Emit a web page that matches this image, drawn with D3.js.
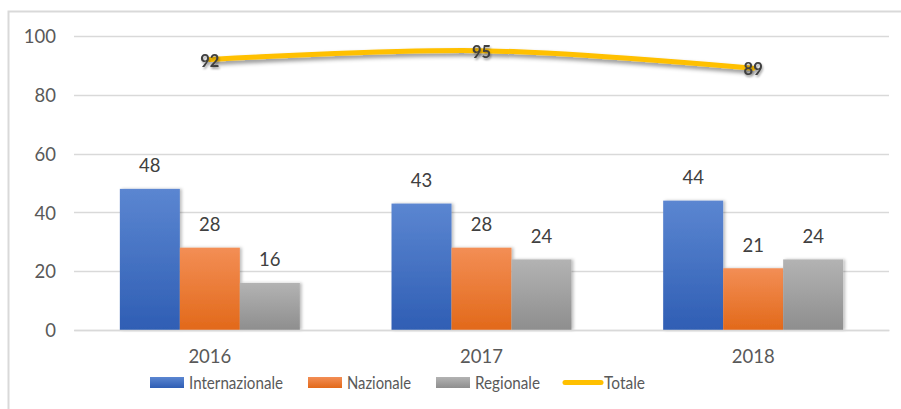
<!DOCTYPE html>
<html><head><meta charset="utf-8">
<script src="https://cdn.jsdelivr.net/npm/d3@7"></script>
<style>body{margin:0;background:#fff;}svg{display:block;font-family:Lato,"Open Sans",sans-serif;}</style>
</head><body>
<svg id="c" width="901" height="409"></svg>
<script>
const years = ["2016","2017","2018"];
const seriesNames = ["Internazionale","Nazionale","Regionale"];
const internazionale = [48,43,44];
const nazionale = [28,28,21];
const regionale = [16,24,24];
const totale = [92,95,89];
const yTicks = [0,20,40,60,80,100];
const lineName = "Totale";

const svg = d3.select("#c");
const defs = svg.append("defs");
const grads = [["gBlue","#5B86D1","#2F5EB4"],["gOrange","#F38E55","#E2691A"],["gGray","#B3B3B3","#8E8E8E"]];
grads.forEach(([id,a,b])=>{
  const g=defs.append("linearGradient").attr("id",id).attr("x1",0).attr("y1",0).attr("x2",0).attr("y2",1);
  g.append("stop").attr("offset","0%").attr("stop-color",a);
  g.append("stop").attr("offset","100%").attr("stop-color",b);
});
const fs=defs.append("filter").attr("id","sh").attr("x","-10%").attr("y","-50%").attr("width","130%").attr("height","250%");
fs.append("feDropShadow").attr("dx",1.5).attr("dy",3).attr("stdDeviation",2).attr("flood-color","#000").attr("flood-opacity",0.45);
const ft=defs.append("filter").attr("id","tsh").attr("x","-30%").attr("y","-30%").attr("width","160%").attr("height","160%");
ft.append("feDropShadow").attr("dx",1).attr("dy",2).attr("stdDeviation",1.2).attr("flood-color","#000").attr("flood-opacity",0.35);
const fb=defs.append("filter").attr("id","bsh").attr("x","-20%").attr("y","-10%").attr("width","140%").attr("height","120%");
fb.append("feDropShadow").attr("dx",2).attr("dy",0).attr("stdDeviation",1.5).attr("flood-color","#000").attr("flood-opacity",0.25);

// frame
svg.append("path").attr("d","M8.5,409 L8.5,11.5 L901,11.5").attr("fill","none").attr("stroke","#d9d9d9").attr("stroke-width",2);

const x0 = d3.scaleBand().domain(years).range([74,889]).paddingInner(0.3375).paddingOuter(0.1688);
const x1 = d3.scaleBand().domain(seriesNames).range([0,x0.bandwidth()]);
const y = d3.scaleLinear().domain([0,100]).range([330,36]);

// grid
svg.append("g").selectAll("line").data(yTicks).join("line")
  .attr("x1",74).attr("x2",889).attr("y1",d=>Math.round(y(d))+0.5).attr("y2",d=>Math.round(y(d))+0.5)
  .attr("stroke","#d9d9d9").attr("stroke-width",1.5);
const yAxis = svg.append("g").attr("transform","translate(56,0)").call(d3.axisLeft(y).tickValues(yTicks).tickSize(0).tickPadding(0));
yAxis.select(".domain").remove();
yAxis.selectAll("text").attr("font-size",18.5).attr("fill","#595959").attr("font-family","Lato,sans-serif").attr("dy","0.36em");

const data = [internazionale,nazionale,regionale];
const fills=["url(#gBlue)","url(#gOrange)","url(#gGray)"];
years.forEach((yr,i)=>{
  const g=svg.append("g").attr("transform",`translate(${x0(yr)},0)`);
  seriesNames.forEach((s,j)=>{
    const v=data[j][i];
    g.append("rect").attr("x",x1(s)).attr("y",y(v)).attr("width",x1.bandwidth()).attr("height",y(0)-y(v))
      .attr("fill",fills[j]).attr("filter","url(#bsh)");
  });
  seriesNames.forEach((s,j)=>{
    const v=data[j][i];
    g.append("text").attr("x",x1(s)+x1.bandwidth()/2).attr("y",y(v)-16.5).attr("text-anchor","middle")
      .attr("font-size",18.5).attr("fill","#404040").text(v);
  });
});
// x axis
const xAxis = svg.append("g").attr("transform","translate(0,330)").call(d3.axisBottom(x0).tickSize(0).tickPadding(0));
xAxis.select(".domain").attr("stroke","#d9d9d9").attr("stroke-width",1.5);
xAxis.selectAll("text").attr("font-size",18.5).attr("fill","#595959").attr("font-family","Lato,sans-serif").attr("dy",null).attr("y",33);

// line
const line=d3.line().x((d,i)=>x0(years[i])+x0.bandwidth()/2).y(d=>y(d)).curve(d3.curveCatmullRom.alpha(0.5));
svg.append("path").datum(totale).attr("d",line).attr("fill","none").attr("stroke","#FFC000").attr("stroke-width",5)
  .attr("stroke-linecap","round").attr("filter","url(#sh)");
svg.append("g").attr("filter","url(#tsh)").selectAll("text").data(totale).join("text")
  .attr("x",(d,i)=>x0(years[i])+x0.bandwidth()/2).attr("y",d=>y(d)+7).attr("text-anchor","middle")
  .attr("font-size",16.5).attr("font-weight","bold").attr("fill","#404040").text(d=>d);

// legend
const leg=svg.append("g");
const legItems=[{n:seriesNames[0],f:fills[0],x:150,w:94},{n:seriesNames[1],f:fills[1],x:308,w:64},{n:seriesNames[2],f:fills[2],x:436,w:65}];
legItems.forEach(it=>{
  leg.append("rect").attr("x",it.x).attr("y",377).attr("width",34).attr("height",11).attr("fill",it.f);
  leg.append("text").attr("x",it.x+39).attr("y",389).attr("font-size",17.5).attr("fill","#595959")
    .attr("textLength",it.w).attr("lengthAdjust","spacingAndGlyphs").text(it.n);
});
leg.append("line").attr("x1",565).attr("x2",601).attr("y1",382.5).attr("y2",382.5).attr("stroke","#FFC000").attr("stroke-width",5).attr("stroke-linecap","round");
leg.append("text").attr("x",604).attr("y",389).attr("font-size",17.5).attr("fill","#595959")
  .attr("textLength",41).attr("lengthAdjust","spacingAndGlyphs").text(lineName);
</script>
</body></html>
